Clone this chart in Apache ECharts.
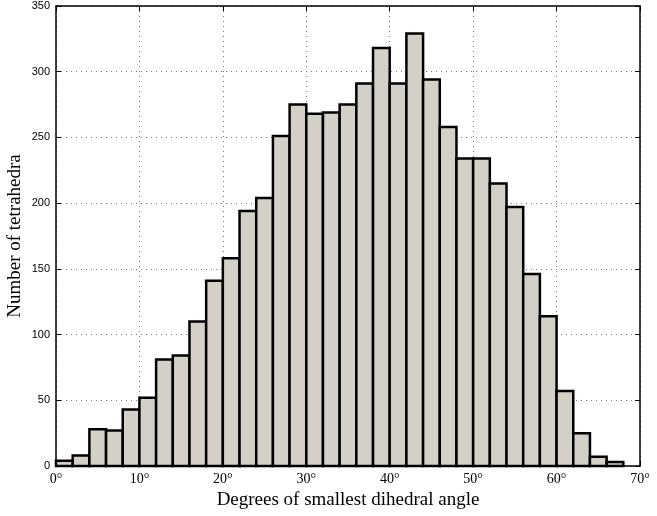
<!DOCTYPE html>
<html>
<head>
<meta charset="utf-8">
<script src="https://cdn.jsdelivr.net/npm/echarts@6/dist/echarts.min.js"></script>
<style>
  html, body { margin: 0; padding: 0; background: #fff; }
  #chart { width: 657px; height: 516px; }
</style>
</head>
<body>
<div id="chart"></div>
<script>
// histogram bins (degrees), 2 degree wide
const binLeft  = [0, 2, 4, 6, 8, 10, 12, 14, 16, 18, 20, 22, 24, 26, 28, 30, 32, 34, 36, 38, 40, 42, 44, 46, 48, 50, 52, 54, 56, 58, 60, 62, 64, 66];
const binRight = [2, 4, 6, 8, 10, 12, 14, 16, 18, 20, 22, 24, 26, 28, 30, 32, 34, 36, 38, 40, 42, 44, 46, 48, 50, 52, 54, 56, 58, 60, 62, 64, 66, 68];
const counts   = [4, 8, 28, 27, 43, 52, 81, 84, 110, 141, 158, 194, 204, 251, 275, 268, 269, 275, 291, 318, 291, 329, 294, 258, 234, 234, 215, 197, 146, 114, 57, 25, 7, 3];

const xTicks = [0, 10, 20, 30, 40, 50, 60, 70];
const yTicks = [0, 50, 100, 150, 200, 250, 300, 350];

const chart = echarts.init(document.getElementById("chart"));

const serif = "Liberation Serif";
const sans = "Liberation Sans";

// dotted MATLAB-style grid
const gridLine = { show: true, lineStyle: { color: "#777", width: 1, type: [1, 4] } };

chart.setOption({
  animation: false,
  grid: { left: 56, right: 17, top: 6, bottom: 50, containLabel: false, outerBoundsMode: "none" },
  xAxis: [
    {
      type: "value",
      min: xTicks[0],
      max: xTicks[xTicks.length - 1],
      interval: 10,
      axisLine: { show: true, onZero: false, lineStyle: { color: "#000", width: 1.5 } },
      axisTick: { show: true, inside: true, length: 5, lineStyle: { color: "#000" } },
      axisLabel: {
        color: "#000", fontFamily: serif, fontSize: 14, margin: 6,
        formatter: (v) => v + "°"
      },
      splitLine: gridLine,
      name: "Degrees of smallest dihedral angle",
      nameLocation: "middle",
      nameMoveOverlap: false,
      nameGap: 25,
      nameTextStyle: { color: "#000", fontFamily: serif, fontSize: 19 }
    },
    {
      type: "value",
      position: "top",
      min: xTicks[0],
      max: xTicks[xTicks.length - 1],
      interval: 10,
      axisLine: { show: true, onZero: false, lineStyle: { color: "#000", width: 1.5 } },
      axisTick: { show: true, inside: true, length: 5, lineStyle: { color: "#000" } },
      axisLabel: { show: false },
      splitLine: { show: false }
    }
  ],
  yAxis: [
    {
      type: "value",
      min: yTicks[0],
      max: yTicks[yTicks.length - 1],
      interval: 50,
      axisLine: { show: true, onZero: false, lineStyle: { color: "#000", width: 1.5 } },
      axisTick: { show: true, inside: true, length: 5, lineStyle: { color: "#000" } },
      axisLabel: { color: "#000", fontFamily: sans, fontSize: 11, margin: 6 },
      splitLine: gridLine,
      name: "Number of tetrahedra",
      nameLocation: "middle",
      nameMoveOverlap: false,
      nameGap: 31,
      nameTextStyle: { color: "#000", fontFamily: serif, fontSize: 19 }
    },
    {
      type: "value",
      position: "right",
      min: yTicks[0],
      max: yTicks[yTicks.length - 1],
      interval: 50,
      axisLine: { show: true, onZero: false, lineStyle: { color: "#000", width: 1.5 } },
      axisTick: { show: true, inside: true, length: 5, lineStyle: { color: "#000" } },
      axisLabel: { show: false },
      splitLine: { show: false }
    }
  ],
  series: [
    {
      type: "custom",
      xAxisIndex: 0,
      yAxisIndex: 0,
      data: counts.map((c, i) => [binLeft[i], binRight[i], c]),
      renderItem: (params, api) => {
        const p0 = api.coord([api.value(0), api.value(2)]);
        const p1 = api.coord([api.value(1), 0]);
        return {
          type: "rect",
          shape: { x: p0[0], y: p0[1], width: p1[0] - p0[0], height: p1[1] - p0[1] },
          style: { fill: "#d4d0c8", stroke: "#000", lineWidth: 2.5 }
        };
      }
    }
  ]
});
</script>
</body>
</html>
